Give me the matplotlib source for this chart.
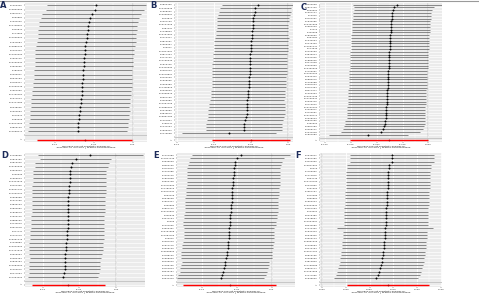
import matplotlib
matplotlib.use('Agg')
import matplotlib.pyplot as plt
from matplotlib.lines import Line2D

# ---- data (top row first) ----
snps_a = """rs1260326 rs10830963 rs4607517 rs560887 rs7034200 rs11708067 rs340874 rs174550
rs11605924 rs7944584 rs10885122 rs2191349 rs11920090 rs7903146 rs13266634 rs4506565
rs780094 rs2293941 rs6943153 rs3783347 rs11039149 rs7651090 rs17762454 rs1371614
rs10747083 rs6048205 rs2302593 rs576674 rs983309 rs16913693 rs3829109 rs11558471""".split()
b_a = [-0.047, -0.049, -0.053, -0.055, -0.057, -0.058, -0.058, -0.059, -0.059, -0.060,
       -0.061, -0.062, -0.062, -0.063, -0.063, -0.063, -0.064, -0.064, -0.064, -0.065,
       -0.065, -0.066, -0.066, -0.067, -0.067, -0.068, -0.068, -0.069, -0.069, -0.070,
       -0.070, -0.071]
se_a = [0.0322] * 6 + [0.0323] * 20 + [0.0325] * 6
all_a = (-0.062, 0.031)

snps_b = """rs2820436 rs12429545 rs1558902 rs10938397 rs543874 rs2207139 rs13107325 rs987237
rs7138803 rs10767664 rs2112347 rs3810291 rs7359397 rs29941 rs11847697 rs3817334
rs4771122 rs11165643 rs1516725 rs12446632 rs2287019 rs13078807 rs9400239 rs1928295
rs2365389 rs17405819 rs2033529 rs10968576 rs6567160 rs4256980 rs11057405 rs12885454
rs2075650 rs3849570 rs16851483 rs1167827 rs758747 rs1441264 rs7599312 rs2176598""".split()
b_b = [-0.041, -0.044, -0.045, -0.046, -0.047, -0.047, -0.048, -0.048, -0.049, -0.049,
       -0.049, -0.050, -0.050, -0.050, -0.050, -0.051, -0.051, -0.051, -0.052, -0.052,
       -0.052, -0.052, -0.053, -0.053, -0.053, -0.053, -0.054, -0.054, -0.054, -0.055,
       -0.055, -0.055, -0.056, -0.056, -0.057, -0.058, -0.059, -0.060, -0.060, -0.080]
se_b = [0.0247] * 10 + [0.0255] * 20 + [0.0262] * 9 + [0.0322]
all_b = (-0.050, 0.027)

snps_c = """rs4420638 rs6511720 rs629301 rs1367117 rs12916 rs3764261 rs1532085 rs10401969
rs2954029 rs7412 rs429358 rs1800562 rs964184 rs1042034 rs2479409 rs11591147
rs174546 rs2126259 rs4846914 rs2131925 rs1883025 rs3177928 rs2000999 rs10490626
rs7703051 rs11220462 rs2642442 rs6882076 rs1169288 rs2287623 rs3757354 rs8017377
rs1260333 rs12027135 rs11136341 rs2030746 rs2710642 rs10102164 rs7206971 rs4722551
rs10128711 rs2328223 rs6831256 rs492602 rs9987289 rs2255141 rs7241918 rs1801689""".split()
b_c = [-0.030, -0.033, -0.034, -0.035, -0.035, -0.035, -0.036, -0.036, -0.036, -0.036,
       -0.036, -0.037, -0.037, -0.037, -0.037, -0.037, -0.037, -0.038, -0.038, -0.038,
       -0.038, -0.038, -0.038, -0.038, -0.039, -0.039, -0.039, -0.039, -0.039, -0.039,
       -0.039, -0.040, -0.040, -0.040, -0.040, -0.040, -0.040, -0.041, -0.041, -0.041,
       -0.041, -0.041, -0.042, -0.042, -0.043, -0.044, -0.046, -0.058]
se_c = [0.0220, 0.0198] + [0.0192] * 40 + [0.0196] * 5 + [0.0196]
all_c = (-0.038, 0.0193)

snps_d = """rs7498665 rs2815752 rs9816226 rs10150332 rs4929949 rs206936 rs1555543 rs12444979
rs3101336 rs13021737 rs11030104 rs2568958 rs1211166 rs4836133 rs2890652 rs1808579
rs7903146 rs3888190 rs4740619 rs9914578 rs977747 rs2121279 rs16951275 rs7239883
rs12940622 rs11727676 rs9925964 rs2080454 rs2836754 rs11583200 rs1460676 rs6477694
rs17094222""".split()
b_d = [-0.035, -0.055, -0.060, -0.061, -0.063, -0.063, -0.063, -0.063, -0.064, -0.064,
       -0.064, -0.065, -0.065, -0.065, -0.065, -0.065, -0.066, -0.066, -0.066, -0.066,
       -0.067, -0.067, -0.067, -0.068, -0.068, -0.068, -0.069, -0.069, -0.070, -0.070,
       -0.070, -0.071, -0.072]
se_d = [0.0365, 0.0245] + [0.0255] * 25 + [0.0245] * 6
all_d = (-0.065, 0.0255)

snps_e = """rs1121980 rs17817449 rs9939609 rs8050136 rs3751812 rs1421085 rs7202116 rs1861868
rs9922708 rs11075990 rs17782313 rs12970134 rs663129 rs6548238 rs7561317 rs939583
rs2867112 rs10146997 rs925946 rs4074134 rs6265 rs1401635 rs4923461 rs10767658
rs11084753 rs29942 rs2287019 rs1514176 rs2605100 rs10508503 rs4788102 rs1558903
rs6499640 rs7185735 rs3751813 rs8043757 rs7190492 rs9941349""".split()
b_e = [-0.044, -0.050, -0.052, -0.053, -0.054, -0.054, -0.054, -0.055, -0.055, -0.055,
       -0.056, -0.056, -0.056, -0.057, -0.057, -0.058, -0.058, -0.058, -0.059, -0.059,
       -0.060, -0.060, -0.061, -0.061, -0.061, -0.061, -0.062, -0.063, -0.063, -0.064,
       -0.064, -0.065, -0.066, -0.067, -0.068, -0.069, -0.071, -0.073]
se_e = [0.0357, 0.0340] + [0.0338] * 20 + [0.0330] * 10 + [0.0318] * 6
all_e = (-0.060, 0.0337)

snps_f = """rs2943641 rs1801282 rs4402960 rs10811661 rs5219 rs7756992 rs1111875 rs864745
rs12779790 rs2237892 rs231362 rs7957197 rs972283 rs896854 rs1552224 rs10923931
rs4457053 rs243021 rs5015480 rs7578597 rs11634397 rs8042680 rs7172432 rs1531343
rs5945326 rs3923113 rs16861329 rs1496653 rs9470794 rs12571751 rs6813195 rs2028299
rs4812829 rs17168486 rs3802177 rs11257655 rs7177055 rs1535500""".split()
b_f = [0.073, 0.073, 0.073, 0.070, 0.070, 0.069, 0.069, 0.069, 0.069, 0.069,
       0.069, 0.068, 0.068, 0.068, 0.068, 0.068, 0.067, 0.067, 0.067, 0.067,
       0.067, 0.067, 0.066, 0.066, 0.066, 0.066, 0.065, 0.065, 0.065, 0.064,
       0.064, 0.063, 0.063, 0.062, 0.061, 0.060, 0.059, 0.057]
se_f = [0.0225] * 22 + [0.0256] + [0.0225] * 15
all_f = (0.069, 0.022)

xlab = "MR leave-one-out sensitivity analysis for\n'exposure' on 'outcome || id:ebi-a-GCST90018926'"

panels = [
    # letter, snps, b, se, all, xlim, ticks, tick fmt, rect px (x0, top, x1, bottom), letter xy
    ('A', snps_a, b_a, se_a, all_a, (-0.1385, 0.018), [-0.10, -0.05, 0.00], '{:.2f}', (25, 3, 147, 142), (3.5, 6)),
    ('B', snps_b, b_b, se_b, all_b, (-0.1525, 0.0066), [-0.15, -0.10, -0.05, 0.00], '{:.2f}', (175, 3, 293, 142), (153.5, 6)),
    ('C', snps_c, b_c, se_c, all_c, (-0.105, 0.0133), [-0.100, -0.075, -0.050, -0.025, 0.000], '{:.3f}', (320, 3, 442, 142), (303.5, 7)),
    ('D', snps_d, b_d, se_d, all_d, (-0.124, 0.0395), [-0.10, -0.05, 0.00], '{:.2f}', (25, 153, 145, 287), (4.5, 156)),
    ('E', snps_e, b_e, se_e, all_e, (-0.135, 0.033), [-0.10, -0.05, 0.00], '{:.2f}', (177, 153, 295, 287), (156, 156)),
    ('F', snps_f, b_f, se_f, all_f, (-0.0021, 0.126), [0.000, 0.025, 0.050, 0.075, 0.100, 0.125], '{:.3f}', (320, 153, 442, 287), (298, 156)),
]

W, H = 479, 300
fig = plt.figure(figsize=(W / 100, H / 100), dpi=100)
fig.patch.set_facecolor('white')

fs = 1.75
for letter, snps, b, se, allv, xlim, ticks, fmt, (x0, top, x1, bot), (lx, ly) in panels:
    ax = fig.add_axes([x0 / W, 1 - bot / H, (x1 - x0) / W, (bot - top) / H])
    ax.set_facecolor('#EBEBEB')
    for s in ax.spines.values():
        s.set_visible(False)
    n = len(b)
    ys = [n + 2 - i for i in range(n)]
    # grid
    for y in range(1, n + 3):
        ax.axhline(y, color='white', lw=0.5, zorder=0)
    for t in ticks:
        ax.axvline(t, color='white', lw=0.6, zorder=0)
    for i in range(len(ticks) - 1):
        ax.axvline((ticks[i] + ticks[i + 1]) / 2, color='white', lw=0.3, zorder=0)
    ax.axvline(0, color='#555555', lw=0.35, ls=(0, (1, 1.5)), zorder=1)
    ax.axhline(2, color='#BEBEBE', lw=0.6, zorder=1)
    lo = [v - 1.96 * s for v, s in zip(b, se)]
    up = [v + 1.96 * s for v, s in zip(b, se)]
    ax.hlines(ys, lo, up, color='#5a5a5a', lw=0.5, zorder=2)
    ax.plot(b, ys, 'o', color='black', ms=1.4, mew=0, zorder=3)
    ab, ase = allv
    ax.hlines([1], [ab - 1.96 * ase], [ab + 1.96 * ase], color='red', lw=1.0, zorder=2)
    ax.plot([ab], [1], 'o', color='#b00000', ms=1.3, mew=0, zorder=3)
    ax.set_xlim(*xlim)
    ax.set_ylim(0.4, n + 2.6)
    ax.set_yticks(ys + [2, 1])
    ax.set_yticklabels(snps + ['', 'All'], fontsize=fs, color='#333333')
    ax.set_xticks(ticks)
    ax.set_xticklabels([fmt.format(t) for t in ticks], fontsize=fs, color='#333333')
    ax.tick_params(length=0.8, width=0.3, color='#333333', pad=0.8)
    ax.set_xlabel(xlab, fontsize=1.7, labelpad=0.6, linespacing=0.9, color='#111111')
    fig.text(lx / W, 1 - ly / H, letter, fontsize=6, fontweight='bold',
             color='#1c2b5a', ha='center', va='center')

fig.add_artist(Line2D([0, 1], [1 - 0.5 / H, 1 - 0.5 / H], color='#9a9a9a', lw=0.8))

fig.savefig('out.png', dpi=100)
